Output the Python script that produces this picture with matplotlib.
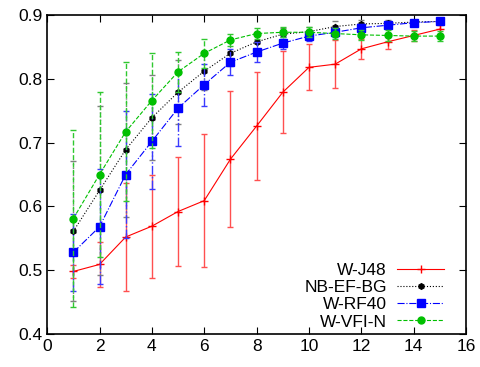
import matplotlib
matplotlib.use('Agg')
import matplotlib.pyplot as plt

plt.rcParams['font.family'] = 'Liberation Sans'

# x positions (number of features / iterations)
x = list(range(1, 16))

# mean values per method
j48 = [0.498, 0.509, 0.552, 0.569, 0.592, 0.609, 0.674, 0.726, 0.779, 0.818, 0.823, 0.847, 0.858, 0.868, 0.878]
nb_ef_bg = [0.561, 0.625, 0.689, 0.739, 0.779, 0.812, 0.840, 0.858, 0.870, 0.874, 0.882, 0.886, 0.887, 0.889, 0.890]
rf40 = [0.528, 0.568, 0.650, 0.702, 0.754, 0.791, 0.826, 0.842, 0.856, 0.867, 0.873, 0.880, 0.884, 0.888, 0.890]
vfi_n = [0.581, 0.650, 0.717, 0.766, 0.811, 0.840, 0.861, 0.871, 0.873, 0.873, 0.871, 0.869, 0.868, 0.867, 0.867]

# error (standard deviation) per method
j48_err = [0.010, 0.035, 0.085, 0.081, 0.086, 0.104, 0.107, 0.085, 0.064, 0.036, 0.038, 0.016, 0.011, 0.008, 0.007]
nb_err = [0.110, 0.132, 0.105, 0.067, 0.050, 0.030, 0.020, 0.012, 0.010, 0.008, 0.008, 0.006, 0.005, 0.004, 0.004]
rf40_err = [0.060, 0.090, 0.100, 0.074, 0.060, 0.033, 0.020, 0.015, 0.010, 0.008, 0.007, 0.006, 0.005, 0.004, 0.004]
vfi_err = [0.139, 0.130, 0.109, 0.075, 0.031, 0.023, 0.010, 0.008, 0.008, 0.008, 0.008, 0.008, 0.008, 0.008, 0.008]

labels = ['W-J48', 'NB-EF-BG', 'W-RF40', 'W-VFI-N']

fig = plt.figure(figsize=(4.81, 3.67), dpi=100)
ax = fig.add_axes([0.098, 0.090, 0.871, 0.869])

styles = [
    # data, err, colour, error colour, linestyle, marker, size
    (j48, j48_err, '#ff0000', '#ff5050', '-', '+', 6),
    (nb_ef_bg, nb_err, '#000000', '#808080', ':', 'h', 4),
    (rf40, rf40_err, '#0000ff', '#3a3aff', '-.', 's', 5.5),
    (vfi_n, vfi_err, '#00c000', '#30c830', '--', 'o', 5),
]

handles = []
for z, (y, e, col, ecol, ls, mk, ms) in enumerate(styles):
    c = ax.errorbar(x, y, yerr=e, color=col, ls=ls, lw=0.8, marker=mk, ms=ms,
                    mew=1.0, capsize=2, elinewidth=1.0, ecolor=ecol,
                    capthick=1.0, zorder=2 + z)
    c[2][0].set_linestyle(ls)
    handles.append(c[0])

ax.set_xlim(0, 16)
ax.set_ylim(0.4, 0.9)
ax.set_xticks(range(0, 17, 2))
ax.set_yticks([0.4, 0.5, 0.6, 0.7, 0.8, 0.9])
ax.set_yticklabels(['0.4', '0.5', '0.6', '0.7', '0.8', '0.9'])
ax.tick_params(direction='in', top=True, right=True, labelsize=12.5, length=5)
for s in ax.spines.values():
    s.set_linewidth(1.2)

ax.legend(handles, labels, loc='lower right', bbox_to_anchor=(0.985, -0.035),
          frameon=False, markerfirst=False, fontsize=12.5, handlelength=2.7,
          labelspacing=0.12, handletextpad=0.6)

fig.savefig('out.png', dpi=100)
